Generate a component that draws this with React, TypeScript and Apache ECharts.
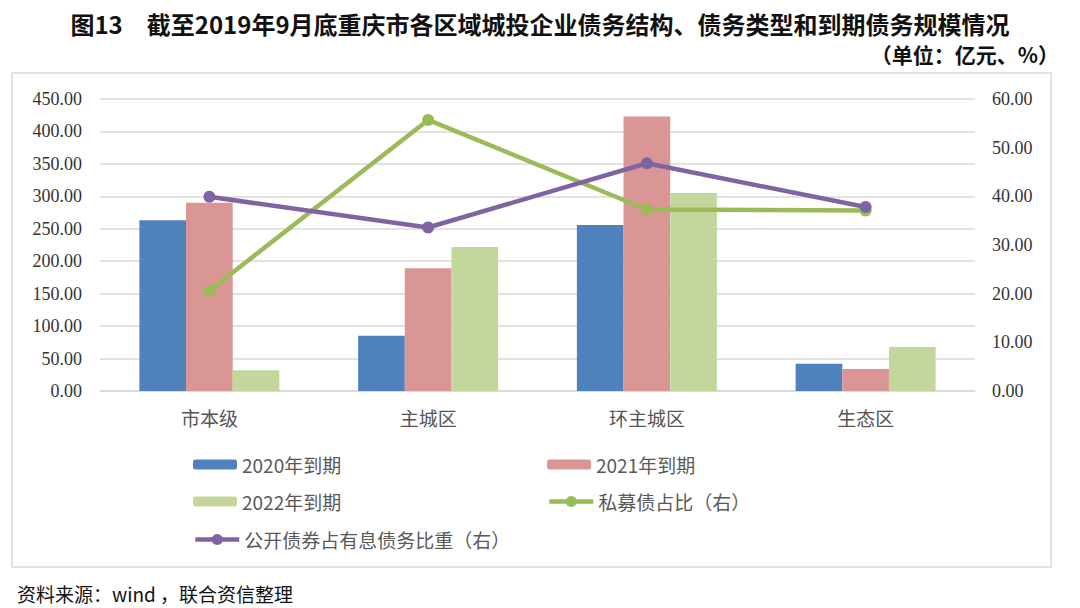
import React, { useEffect, useRef } from "react";
import * as echarts from "echarts";

const categories = ["市本级", "主城区", "环主城区", "生态区"];
const due2020 = [263, 85, 256, 42];
const due2021 = [290, 189, 423, 34];
const due2022 = [32, 222, 305, 68];
const privateShare = [20.6, 55.7, 37.3, 37.1];
const publicShare = [39.9, 33.6, 46.8, 37.8];

const leftTicks = { min: 0, max: 450, interval: 50 };
const rightTicks = { min: 0, max: 60, interval: 10 };

const names = ["2020年到期", "2021年到期", "2022年到期", "私募债占比（右）", "公开债券占有息债务比重（右）"];

const CJK = "Noto Sans CJK SC";
const SERIF = "Liberation Serif";

export default function App() {
  const ref = useRef<HTMLDivElement>(null);
  useEffect(() => {
    if (!ref.current) return;
    const chart = echarts.init(ref.current, null, { renderer: "svg" });
    const legendText = { fontFamily: CJK, fontSize: 19, color: "#595959" };
    const mkLegend = (name: string, left: number, top: number, isLine: boolean) => ({
      data: [name],
      left,
      top,
      itemWidth: 44,
      itemHeight: isLine ? 14 : 10,
      itemGap: 0,
      padding: 0,
      textStyle: legendText,
      selectedMode: false,
      ...(isLine ? { lineStyle: { width: 4.5 } } : {}),
    });
    chart.setOption({
      animation: false,
      backgroundColor: "#fff",
      title: [
        {
          text: "图13　截至2019年9月底重庆市各区域城投企业债务结构、债务类型和到期债务规模情况",
          left: "center",
          top: 6,
          textStyle: { fontFamily: CJK, fontSize: 24, fontWeight: "bold", color: "#111" },
        },
        {
          text: "（单位：亿元、%）",
          right: 16,
          top: 38,
          textStyle: { fontFamily: CJK, fontSize: 21, fontWeight: "bold", color: "#111" },
        },
        {
          text: "资料来源：wind ，联合资信整理",
          left: 12,
          top: 579,
          textStyle: { fontFamily: CJK, fontSize: 19, fontWeight: "normal", color: "#111" },
        },
      ],
      graphic: [
        {
          type: "rect",
          shape: { x: 12, y: 73, width: 1039, height: 494 },
          style: { fill: "none", stroke: "#d9d9d9", lineWidth: 1.5 },
          silent: true,
        },
      ],
      legend: [
        mkLegend(names[0], 193, 455, false),
        mkLegend(names[1], 547, 455, false),
        mkLegend(names[2], 193, 492, false),
        mkLegend(names[3], 547, 492, true),
        mkLegend(names[4], 193, 530, true),
      ],
      grid: { left: 100, right: 105, top: 99, height: 292, containLabel: false },
      xAxis: {
        type: "category",
        data: categories,
        axisLine: { lineStyle: { color: "#d9d9d9", width: 1.5 } },
        axisTick: { show: false },
        axisLabel: { fontFamily: CJK, fontSize: 19, color: "#555", margin: 17 },
      },
      yAxis: [
        {
          type: "value",
          ...leftTicks,
          axisLine: { show: false },
          axisTick: { show: false },
          splitLine: { lineStyle: { color: "#d9d9d9", width: 1.5 } },
          axisLabel: {
            fontFamily: SERIF,
            fontSize: 18,
            color: "#333",
            margin: 18,
            formatter: (v: number) => v.toFixed(2),
          },
        },
        {
          type: "value",
          ...rightTicks,
          axisLine: { show: false },
          axisTick: { show: false },
          splitLine: { show: false },
          axisLabel: {
            fontFamily: SERIF,
            fontSize: 18,
            color: "#333",
            margin: 17,
            formatter: (v: number) => v.toFixed(2),
          },
        },
      ],
      series: [
        {
          name: names[0],
          type: "bar",
          data: due2020,
          itemStyle: { color: "#4F81BD" },
          barGap: "0%",
          barCategoryGap: "36%",
        },
        { name: names[1], type: "bar", data: due2021, itemStyle: { color: "#D99694" } },
        { name: names[2], type: "bar", data: due2022, itemStyle: { color: "#C3D69B" } },
        {
          name: names[3],
          type: "line",
          yAxisIndex: 1,
          data: privateShare,
          symbol: "circle",
          symbolSize: 12,
          lineStyle: { color: "#9BBB59", width: 4.5 },
          itemStyle: { color: "#9BBB59" },
          z: 5,
        },
        {
          name: names[4],
          type: "line",
          yAxisIndex: 1,
          data: publicShare,
          symbol: "circle",
          symbolSize: 12,
          lineStyle: { color: "#8064A2", width: 4.5 },
          itemStyle: { color: "#8064A2" },
          z: 6,
        },
      ],
    });
    return () => chart.dispose();
  }, []);
  return (
    <div
      ref={ref}
      style={{ position: "absolute", left: 0, top: 0, width: 1080, height: 608 }}
    />
  );
}
